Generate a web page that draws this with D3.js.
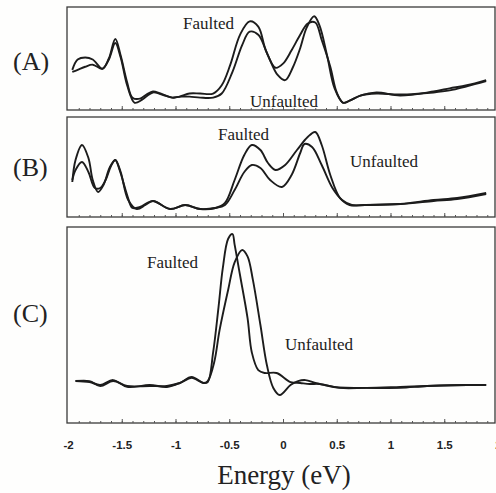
<!DOCTYPE html>
<html><head><meta charset="utf-8">
<script src="https://cdn.jsdelivr.net/npm/d3@7"></script>
<style>html,body{margin:0;padding:0;background:#fff;}svg{display:block;}</style>
</head><body>
<svg id="c" width="496" height="493"></svg>
<script>
// Energy (eV), relative intensity (0 = bottom of panel, 100 = top)
const xTicks = [-2, -1.5, -1, -0.5, 0, 0.5, 1, 1.5, 2];
const panelNames = ["(A)", "(B)", "(C)"];
const seriesNames = ["Faulted", "Unfaulted"];

const A_faulted = [[-1.96,39],[-1.91,49],[-1.84,51],[-1.77,49],[-1.68,40],[-1.62,50],[-1.56,69],[-1.51,53],[-1.45,27],[-1.40,12],[-1.33,11],[-1.27,15],[-1.21,18],[-1.14,16],[-1.03,12],[-0.96,13],[-0.87,16],[-0.77,16],[-0.65,16],[-0.57,24],[-0.49,44],[-0.40,73],[-0.31,86],[-0.23,81],[-0.16,58],[-0.07,41],[0.00,45],[0.08,58],[0.16,73],[0.23,84],[0.30,85],[0.36,68],[0.44,42],[0.50,17],[0.56,7],[0.62,9],[0.72,14],[0.87,17],[1.09,14],[1.40,18],[1.55,21],[1.71,24],[1.89,29]];
const A_unfaulted = [[-1.96,37],[-1.91,39],[-1.84,42],[-1.77,44],[-1.68,40],[-1.62,49],[-1.56,65],[-1.51,51],[-1.45,24],[-1.38,7],[-1.31,10],[-1.21,17],[-1.10,14],[-1.03,12],[-0.96,13],[-0.87,13],[-0.77,12],[-0.65,12],[-0.57,16],[-0.47,37],[-0.38,63],[-0.31,76],[-0.23,73],[-0.14,53],[-0.05,34],[0.02,29],[0.09,41],[0.16,60],[0.22,80],[0.29,91],[0.34,82],[0.41,53],[0.48,21],[0.56,7],[0.62,9],[0.72,14],[0.87,16],[1.09,15],[1.40,17],[1.55,19],[1.71,23],[1.89,28]];

const B_faulted = [[-1.96,35],[-1.93,57],[-1.87,72],[-1.81,59],[-1.77,37],[-1.72,25],[-1.67,32],[-1.61,50],[-1.56,57],[-1.52,47],[-1.45,22],[-1.40,9],[-1.33,10],[-1.21,16],[-1.05,8],[-0.91,12],[-0.77,8],[-0.63,9],[-0.54,14],[-0.45,37],[-0.36,62],[-0.29,72],[-0.21,67],[-0.14,54],[-0.07,47],[0.02,52],[0.13,67],[0.23,80],[0.30,85],[0.36,72],[0.44,42],[0.53,19],[0.62,12],[0.76,12],[1.09,13],[1.40,17],[1.62,19],[1.89,24]];
const B_unfaulted = [[-1.96,37],[-1.93,47],[-1.87,55],[-1.81,45],[-1.75,29],[-1.70,29],[-1.65,37],[-1.60,51],[-1.56,57],[-1.51,45],[-1.44,17],[-1.36,8],[-1.28,12],[-1.21,16],[-1.05,8],[-0.91,12],[-0.77,8],[-0.63,9],[-0.54,12],[-0.45,27],[-0.36,45],[-0.29,52],[-0.21,49],[-0.12,37],[-0.01,30],[0.08,42],[0.16,64],[0.20,73],[0.27,70],[0.36,52],[0.46,29],[0.55,17],[0.64,12],[0.76,12],[1.09,13],[1.40,16],[1.62,18],[1.89,23]];

const C_faulted = [[-1.93,21.4],[-1.80,20.9],[-1.70,19.4],[-1.58,21.9],[-1.45,18.4],[-1.24,19.4],[-1.08,18.4],[-0.96,20.4],[-0.85,23.5],[-0.74,20.4],[-0.70,20.9],[-0.65,36],[-0.60,59],[-0.56,79],[-0.51,94],[-0.47,96.4],[-0.45,91],[-0.40,75.5],[-0.33,53.6],[-0.29,36],[-0.23,27],[-0.17,25.5],[-0.06,25.5],[0.07,20.9],[0.16,20.4],[0.25,19.9],[0.34,19.9],[0.47,18.4],[0.78,17.9],[1.09,18.4],[1.34,18.9],[1.71,19.4],[1.89,19.4]];
const C_unfaulted = [[-1.93,21.4],[-1.80,21.4],[-1.70,18.9],[-1.58,21.4],[-1.45,18.9],[-1.24,18.9],[-1.08,18.9],[-0.96,20.4],[-0.85,23],[-0.74,20.4],[-0.70,21.4],[-0.64,31],[-0.59,47.4],[-0.51,68],[-0.45,82],[-0.38,88.3],[-0.33,85],[-0.28,73],[-0.21,50],[-0.15,29.6],[-0.09,17.9],[-0.03,14.3],[0.07,19.4],[0.14,21.4],[0.21,21.9],[0.30,20.4],[0.39,19.4],[0.53,17.9],[0.78,17.9],[1.09,17.9],[1.34,18.9],[1.71,19.4],[1.89,19.4]];

const panels = [
  {name: panelNames[0], top: 7, bottom: 110, series: [A_faulted, A_unfaulted], labelY: 70,
   text: [{t: seriesNames[0], x: 183, y: 29}, {t: seriesNames[1], x: 250, y: 107}]},
  {name: panelNames[1], top: 117, bottom: 217, series: [B_faulted, B_unfaulted], labelY: 176,
   text: [{t: seriesNames[0], x: 218, y: 140}, {t: seriesNames[1], x: 350, y: 167}]},
  {name: panelNames[2], top: 227, bottom: 423, series: [C_faulted, C_unfaulted], labelY: 322,
   text: [{t: seriesNames[0], x: 147, y: 268}, {t: seriesNames[1], x: 285, y: 350}]}
];

const svg = d3.select("#c");
svg.append("rect").attr("width", 496).attr("height", 493).attr("fill", "#fefefd");

const x = d3.scaleLinear().domain([-2, 2]).range([68, 498]);
const boxLeft = 67, boxRight = 495;
const serif = "'Liberation Serif','Times New Roman',serif";

panels.forEach(p => {
  const y = d3.scaleLinear().domain([0, 100]).range([p.bottom, p.top]);
  const g = svg.append("g");
  g.append("rect").attr("x", boxLeft).attr("y", p.top)
    .attr("width", boxRight - boxLeft).attr("height", p.bottom - p.top)
    .attr("fill", "none").attr("stroke", "#3a3a3a").attr("stroke-width", 1.3);

  // inward minor & major ticks
  const minor = d3.axisBottom(x).tickValues(d3.range(-19, 20).map(d => d / 10))
    .tickSize(-2).tickFormat("");
  const major = d3.axisBottom(x).tickValues(xTicks.slice(1, -1)).tickSize(-4).tickFormat("");
  [minor, major].forEach(ax => {
    const a = g.append("g").attr("transform", `translate(0,${p.bottom})`).call(ax);
    a.select(".domain").remove();
    a.selectAll("line").attr("stroke", "#555").attr("stroke-width", 1);
  });

  const line = d3.line().x(d => x(d[0])).y(d => y(d[1])).curve(d3.curveCatmullRom.alpha(0.5));
  p.series.forEach(s => {
    g.append("path").attr("d", line(s)).attr("fill", "none")
      .attr("stroke", "#1c1c1c").attr("stroke-width", 1.9).attr("stroke-linejoin", "round");
  });

  p.text.forEach(t => {
    g.append("text").attr("x", t.x).attr("y", t.y).text(t.t)
      .attr("font-family", serif).attr("font-size", 17).attr("fill", "#222");
  });
  svg.append("text").attr("x", 13).attr("y", p.labelY).text(p.name)
    .attr("font-family", serif).attr("font-size", 26).attr("fill", "#222");
});

// bottom tick labels
const axis = d3.axisBottom(x).tickValues(xTicks).tickSize(0).tickPadding(18)
  .tickFormat(d => String(d));
const ag = svg.append("g").attr("transform", `translate(0,${panels[2].bottom})`).call(axis);
ag.select(".domain").remove();
ag.selectAll("text").attr("font-family", "'Liberation Sans',Arial,sans-serif")
  .attr("font-weight", "bold").attr("font-size", 11.5).attr("fill", "#222");

svg.append("text").attr("x", x(0) + 1).attr("y", 484).attr("text-anchor", "middle")
  .text("Energy (eV)").attr("font-family", serif).attr("font-size", 27).attr("fill", "#222");
</script>
</body></html>
